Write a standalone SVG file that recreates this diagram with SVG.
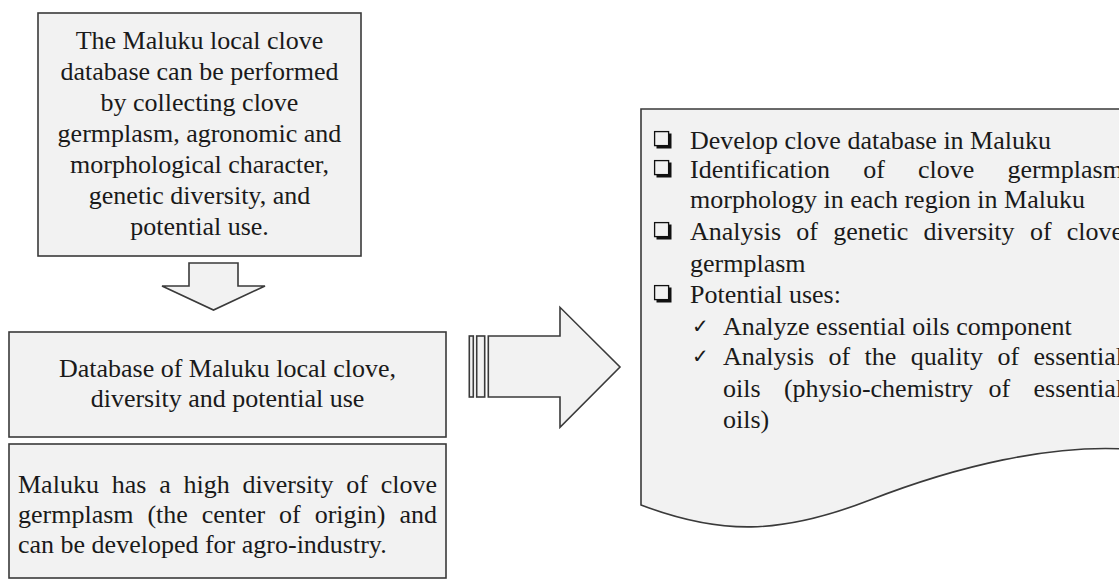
<svg xmlns="http://www.w3.org/2000/svg" width="1119" height="584" viewBox="0 0 1119 584">
<style>
.box{fill:#f2f2f2;stroke:#3a3a3a;stroke-width:1.6}
.arr{fill:#f2f2f2;stroke:#3a3a3a;stroke-width:1.6;stroke-linejoin:miter}
.t{font-family:"Liberation Serif","Times New Roman",serif;font-size:26px;fill:#1a1a1a}
.c{text-anchor:middle}
.chk{font-family:"DejaVu Sans",sans-serif;font-size:20px;fill:#1a1a1a}
</style>
<defs>
<g id="bul">
<rect x="0.6" y="0.6" width="14" height="14" fill="#f2f2f2" stroke="#111" stroke-width="1.3"/>
<path d="M2.5,16 H16 V2.5" fill="none" stroke="#111" stroke-width="3"/>
</g>
</defs>
<rect width="1119" height="584" fill="#fff"/>

<g id="connectors">
<polygon class="arr" points="189,263 238,263 238,286 265,286 213.5,310 162,286 189,286"/>
<rect class="arr" x="469.3" y="336" width="4" height="61"/>
<rect class="arr" x="476.7" y="336" width="8" height="61"/>
<polygon class="arr" points="488.3,336 560,336 560,307.3 620,367 560,427.3 560,397 488.3,397"/>
</g>

<g id="node-top">
<rect class="box" x="38" y="13" width="323" height="243"/>
<text class="t c" x="199.5" y="49">The Maluku local clove</text>
<text class="t c" x="199.5" y="80">database can be performed</text>
<text class="t c" x="199.5" y="111">by collecting clove</text>
<text class="t c" x="199.5" y="142">germplasm, agronomic and</text>
<text class="t c" x="199.5" y="173">morphological character,</text>
<text class="t c" x="199.5" y="204">genetic diversity, and</text>
<text class="t c" x="199.5" y="235">potential use.</text>
</g>

<g id="node-database">
<rect class="box" x="9" y="332" width="437" height="105"/>
<text class="t c" x="227.5" y="377">Database of Maluku local clove,</text>
<text class="t c" x="227.5" y="407">diversity and potential use</text>
</g>

<g id="node-diversity">
<rect class="box" x="9" y="444" width="437" height="134"/>
<text class="t" y="493"><tspan x="18">Maluku</tspan><tspan x="111.7">has</tspan><tspan x="159.2">a</tspan><tspan x="183.5">high</tspan><tspan x="242.5">diversity</tspan><tspan x="346.3">of</tspan><tspan x="380.8">clove</tspan></text>
<text class="t" y="523"><tspan x="18">germplasm</tspan><tspan x="147.4">(the</tspan><tspan x="201.7">center</tspan><tspan x="279.1">of</tspan><tspan x="314.7">origin)</tspan><tspan x="399.4">and</tspan></text>
<text class="t" x="18" y="553">can be developed for agro-industry.</text>
</g>

<g id="node-outputs">
<path class="box" d="M641,109 L1125,109 L1125,449 C1050,445 960,465 870,500 C780,535 720,535 641,505 Z"/>
<use href="#bul" x="654" y="131"/>
<use href="#bul" x="654" y="160"/>
<use href="#bul" x="654" y="222"/>
<use href="#bul" x="654" y="285"/>
<text class="t" x="690" y="149">Develop clove database in Maluku</text>
<text class="t" y="178"><tspan x="690">Identification</tspan><tspan x="863.2">of</tspan><tspan x="918">clove</tspan><tspan x="1007.4">germplasm</tspan></text>
<text class="t" x="690" y="208">morphology in each region in Maluku</text>
<text class="t" y="240"><tspan x="690">Analysis</tspan><tspan x="796.3">of</tspan><tspan x="833.2">genetic</tspan><tspan x="923.6">diversity</tspan><tspan x="1029.9">of</tspan><tspan x="1066.8">clove</tspan></text>
<text class="t" x="690" y="272">germplasm</text>
<text class="t" x="690" y="303">Potential uses:</text>
<text class="chk" x="692" y="333">✓</text>
<text class="t" x="723" y="335">Analyze essential oils component</text>
<text class="chk" x="692" y="363">✓</text>
<text class="t" y="365"><tspan x="723">Analysis</tspan><tspan x="828.4">of</tspan><tspan x="864.5">the</tspan><tspan x="910.7">quality</tspan><tspan x="997.4">of</tspan><tspan x="1033.5">essential</tspan></text>
<text class="t" y="397"><tspan x="723">oils</tspan><tspan x="783.9">(physio-chemistry</tspan><tspan x="988.5">of</tspan><tspan x="1033.5">essential</tspan></text>
<text class="t" x="723" y="428">oils)</text>
</g>
</svg>
